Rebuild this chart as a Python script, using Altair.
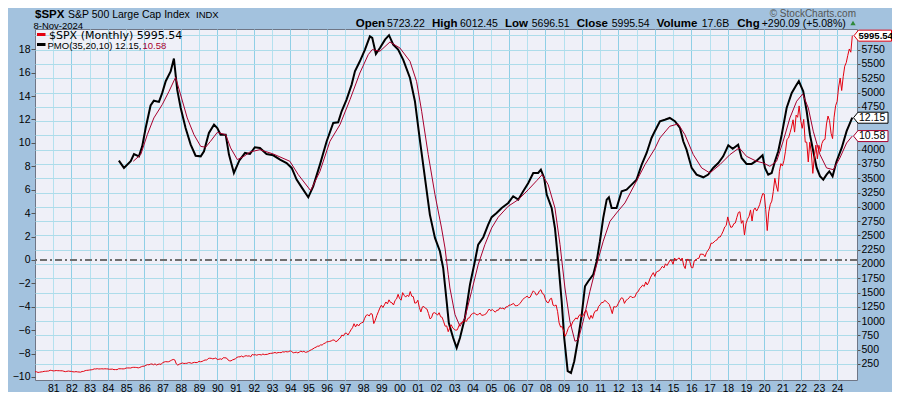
import altair as alt
import pandas as pd

# ---------------- data ----------------
spx_1980s = [
    114.16, 113.66, 102.09, 106.29, 111.24, 114.24, 121.67, 122.38, 125.46, 127.47, 140.52, 135.76,
    129.55, 131.27, 136.00, 132.81, 132.59, 131.21, 130.92, 122.79, 116.18, 121.89, 126.35, 122.55,
    120.40, 113.11, 111.96, 116.44, 111.88, 109.61, 107.09, 119.51, 120.42, 133.71, 138.54, 140.64,
    145.30, 148.06, 152.96, 164.42, 162.39, 168.11, 162.56, 164.40, 166.07, 163.55, 166.40, 164.93,
    163.41, 157.06, 159.18, 160.05, 150.55, 153.18, 150.66, 166.68, 166.10, 166.09, 163.58, 167.24,
    179.63, 181.18, 180.66, 179.83, 189.55, 191.85, 190.92, 188.63, 182.08, 189.82, 202.17, 211.28,
    211.78, 226.92, 238.90, 235.52, 247.35, 250.84, 236.12, 252.93, 231.32, 243.98, 249.22, 242.17,
    274.08, 284.20, 291.70, 288.36, 290.10, 304.00, 318.66, 329.80, 321.83, 251.79, 230.30, 247.08,
    257.07, 267.82, 258.89, 261.33, 262.16, 273.50, 272.02, 261.52, 271.91, 278.97, 273.70, 277.72,
    297.47, 288.86, 294.87, 309.64, 320.52, 317.98, 346.08, 351.45, 349.15, 340.36, 345.99, 353.40,
]
spx_1990s = [
    329.08, 331.89, 339.94, 330.80, 361.23, 358.02, 356.15, 322.56, 306.05, 304.00, 322.22, 330.22,
    343.93, 367.07, 375.22, 375.34, 389.83, 371.16, 387.81, 395.43, 387.86, 392.46, 375.22, 417.09,
    408.79, 412.70, 403.69, 414.95, 415.35, 408.14, 424.21, 414.03, 417.80, 418.68, 431.35, 435.71,
    438.78, 443.38, 451.67, 440.19, 450.19, 450.53, 448.13, 463.56, 458.93, 467.83, 461.79, 466.45,
    481.61, 467.14, 445.77, 450.91, 456.50, 444.27, 458.26, 475.49, 462.69, 472.35, 453.69, 459.27,
    470.42, 487.39, 500.71, 514.71, 533.40, 544.75, 562.06, 561.88, 584.41, 581.50, 605.37, 615.93,
    636.02, 640.43, 645.50, 654.17, 669.12, 670.63, 639.95, 651.99, 687.31, 705.27, 757.02, 740.74,
    786.16, 790.82, 757.12, 801.34, 848.28, 885.14, 954.31, 899.47, 947.28, 914.62, 955.40, 970.43,
    980.28, 1049.34, 1101.75, 1111.75, 1090.82, 1133.84, 1120.67, 957.28, 1017.01, 1098.67, 1163.63, 1229.23,
    1279.64, 1238.33, 1286.37, 1335.18, 1301.84, 1372.71, 1328.72, 1320.41, 1282.71, 1362.93, 1388.91, 1469.25,
]
spx_2000s = [
    1394.46, 1366.42, 1498.58, 1452.43, 1420.60, 1454.60, 1430.83, 1517.68, 1436.51, 1429.40, 1314.95, 1320.28,
    1366.01, 1239.94, 1160.33, 1249.46, 1255.82, 1224.42, 1211.23, 1133.58, 1040.94, 1059.78, 1139.45, 1148.08,
    1130.20, 1106.73, 1147.39, 1076.92, 1067.14, 989.82, 911.62, 916.07, 815.28, 885.76, 936.31, 879.82,
    855.70, 841.15, 848.18, 916.92, 963.59, 974.50, 990.31, 1008.01, 995.97, 1050.71, 1058.20, 1111.92,
    1131.13, 1144.94, 1126.21, 1107.30, 1120.68, 1140.84, 1101.72, 1104.24, 1114.58, 1130.20, 1173.82, 1211.92,
    1181.27, 1203.60, 1180.59, 1156.85, 1191.50, 1191.33, 1234.18, 1220.33, 1228.81, 1207.01, 1249.48, 1248.29,
    1280.08, 1280.66, 1294.87, 1310.61, 1270.09, 1270.20, 1276.66, 1303.82, 1335.85, 1377.94, 1400.63, 1418.30,
    1438.24, 1406.82, 1420.86, 1482.37, 1530.62, 1503.35, 1455.27, 1473.99, 1526.75, 1549.38, 1481.14, 1468.36,
    1378.55, 1330.63, 1322.70, 1385.59, 1400.38, 1280.00, 1267.38, 1282.83, 1166.36, 968.75, 896.24, 903.25,
    825.88, 735.09, 797.87, 872.81, 919.14, 919.32, 987.48, 1020.62, 1057.08, 1036.19, 1095.63, 1115.10,
]
spx_2010s = [
    1073.87, 1104.49, 1169.43, 1186.69, 1089.41, 1030.71, 1101.60, 1049.33, 1141.20, 1183.26, 1180.55, 1257.64,
    1286.12, 1327.22, 1325.83, 1363.61, 1345.20, 1320.64, 1292.28, 1218.89, 1131.42, 1253.30, 1246.96, 1257.60,
    1312.41, 1365.68, 1408.47, 1397.91, 1310.33, 1362.16, 1379.32, 1406.58, 1440.67, 1412.16, 1416.18, 1426.19,
    1498.11, 1514.68, 1569.19, 1597.57, 1630.74, 1606.28, 1685.73, 1632.97, 1681.55, 1756.54, 1805.81, 1848.36,
    1782.59, 1859.45, 1872.34, 1883.95, 1923.57, 1960.23, 1930.67, 2003.37, 1972.29, 2018.05, 2067.56, 2058.90,
    1994.99, 2104.50, 2067.89, 2085.51, 2107.39, 2063.11, 2103.84, 1972.18, 1920.03, 2079.36, 2080.41, 2043.94,
    1940.24, 1932.23, 2059.74, 2065.30, 2096.95, 2098.86, 2173.60, 2170.95, 2168.27, 2126.15, 2198.81, 2238.83,
    2278.87, 2363.64, 2362.72, 2384.20, 2411.80, 2423.41, 2470.30, 2471.65, 2519.36, 2575.26, 2647.58, 2673.61,
    2823.81, 2713.83, 2640.87, 2648.05, 2705.27, 2718.37, 2816.29, 2901.52, 2913.98, 2711.74, 2760.17, 2506.85,
    2704.10, 2784.49, 2834.40, 2945.83, 2752.06, 2941.76, 2980.38, 2926.46, 2976.74, 3037.56, 3140.98, 3230.78,
]
spx_2020s = [
    3225.52, 2954.22, 2584.59, 2912.43, 3044.31, 3100.29, 3271.12, 3500.31, 3363.00, 3269.96, 3621.63, 3756.07,
    3714.24, 3811.15, 3972.89, 4181.17, 4204.11, 4297.50, 4395.26, 4522.68, 4307.54, 4605.38, 4567.00, 4766.18,
    4515.55, 4373.94, 4530.41, 4131.93, 4132.15, 3785.38, 4130.29, 3955.00, 3585.62, 3871.98, 4080.11, 3839.50,
    4076.60, 3970.15, 4109.31, 4169.48, 4179.83, 4450.38, 4588.96, 4507.66, 4288.05, 4193.80, 4567.80, 4769.83,
    4845.65, 5096.27, 5254.35, 5035.69, 5277.51, 5460.48, 5522.30, 5648.40, 5762.48, 5705.45, 5995.54,
]

pmo_dates = [
    1984.60, 1984.88, 1985.25, 1985.43, 1985.70, 1985.88, 1986.07, 1986.34, 1986.52, 1986.80, 1986.98,
    1987.17, 1987.44, 1987.62, 1987.80, 1987.99, 1988.26, 1988.54, 1988.81, 1989.09, 1989.27, 1989.54,
    1989.82, 1990.00, 1990.18, 1990.46, 1990.64, 1990.91, 1991.21, 1991.52, 1991.79, 1992.06, 1992.34,
    1992.70, 1993.07, 1993.44, 1993.80, 1994.08, 1994.35, 1994.63, 1994.99, 1995.26, 1995.63, 1996.00,
    1996.36, 1996.63, 1996.82, 1997.09, 1997.37, 1997.55, 1997.82, 1998.10, 1998.37, 1998.50, 1998.70,
    1998.92, 1999.20, 1999.42, 1999.65, 1999.92, 2000.20, 2000.57, 2000.84, 2001.12, 2001.39, 2001.66,
    2001.94, 2002.21, 2002.39, 2002.58, 2002.70, 2002.94, 2003.13, 2003.31, 2003.58, 2003.86, 2004.13,
    2004.31, 2004.59, 2004.86, 2005.05, 2005.32, 2005.60, 2005.96, 2006.23, 2006.51, 2006.78, 2007.06,
    2007.33, 2007.60, 2007.75, 2007.93, 2008.07, 2008.34, 2008.52, 2008.70, 2008.89, 2009.03, 2009.22,
    2009.40, 2009.58, 2009.77, 2009.99, 2010.17, 2010.35, 2010.62, 2010.81, 2010.99, 2011.17, 2011.36,
    2011.48, 2011.63, 2011.90, 2012.18, 2012.45, 2012.73, 2013.00, 2013.28, 2013.55, 2013.82, 2014.00,
    2014.28, 2014.55, 2014.82, 2015.10, 2015.38, 2015.56, 2015.74, 2016.02, 2016.29, 2016.66, 2016.93,
    2017.20, 2017.48, 2017.75, 2018.03, 2018.27, 2018.57, 2018.76, 2019.03, 2019.31, 2019.58, 2019.91,
    2020.04, 2020.22, 2020.41, 2020.59, 2020.77, 2020.96, 2021.23, 2021.51, 2021.78, 2021.90, 2022.14,
    2022.33, 2022.51, 2022.69, 2022.88, 2023.06, 2023.24, 2023.42, 2023.57, 2023.75, 2023.97, 2024.25,
    2024.52, 2024.83,
]
pmo_values = [
    8.48, 7.86, 8.43, 9.05, 8.85, 9.70, 11.27, 13.20, 13.60, 13.50, 14.27,
    15.27, 16.10, 17.20, 14.55, 13.00, 11.27, 9.85, 8.90, 8.85, 9.28, 10.85,
    11.56, 11.27, 10.70, 10.70, 9.00, 7.43, 8.50, 9.14, 9.05, 9.63, 9.57,
    9.05, 8.94, 8.57, 8.28, 7.86, 6.86, 6.20, 5.35, 6.29, 8.14, 10.14,
    11.70, 11.76, 12.70, 13.70, 14.98, 16.12, 16.97, 17.97, 19.10, 18.97, 17.60,
    18.10, 18.82, 19.20, 18.40, 17.97, 17.10, 15.55, 13.56, 10.14, 7.00, 3.87,
    1.88, 0.74, -0.69, -3.53, -5.40, -6.67, -7.52, -6.67, -4.96, -2.11, -0.11,
    1.31, 1.94, 3.01, 3.65, 4.01, 4.44, 4.87, 5.44, 5.15, 5.87, 6.58,
    7.43, 7.43, 7.71, 7.00, 5.58, 4.44, 2.73, -0.11, -3.53, -6.67, -9.51,
    -9.66, -8.66, -6.95, -4.68, -2.25, -1.82, -1.26, -0.11, 1.60, 3.59, 5.15,
    5.35, 4.44, 4.44, 5.87, 6.00, 6.43, 6.86, 8.14, 9.14, 10.42, 11.00,
    11.85, 11.98, 12.13, 11.85, 11.27, 10.14, 9.42, 7.86, 7.29, 7.06, 7.29,
    7.86, 8.28, 8.85, 9.80, 9.50, 9.85, 8.71, 8.20, 8.20, 8.48, 8.94,
    7.86, 7.29, 7.43, 8.43, 9.28, 10.70, 12.98, 14.27, 14.98, 15.27, 14.41,
    12.70, 10.70, 9.28, 7.86, 7.15, 6.86, 7.29, 7.57, 7.15, 8.43, 9.57,
    11.00, 12.15,
]
signal_dates = [
    1985.39, 1985.80, 1986.16, 1986.52, 1986.98, 1987.35, 1987.71, 1987.99, 1988.35, 1988.72, 1989.09,
    1989.36, 1989.63, 1990.00, 1990.46, 1990.73, 1991.10, 1991.46, 1991.79, 1992.34, 1993.07, 1993.98,
    1994.44, 1995.12, 1995.63, 1996.18, 1996.73, 1997.28, 1997.82, 1998.28, 1998.50, 1998.92, 1999.47,
    2000.02, 2000.57, 2000.93, 2001.21, 2001.57, 2001.94, 2002.30, 2002.49, 2002.67, 2002.76, 2003.04,
    2003.31, 2003.58, 2003.95, 2004.31, 2004.68, 2005.05, 2005.41, 2005.96, 2006.51, 2007.06, 2007.52,
    2007.82, 2008.15, 2008.52, 2008.80, 2009.07, 2009.34, 2009.62, 2009.80, 2010.07, 2010.44, 2010.81,
    2011.17, 2011.54, 2011.90, 2012.36, 2012.91, 2013.46, 2014.00, 2014.28, 2014.82, 2015.28, 2015.65,
    2016.11, 2016.57, 2017.02, 2017.57, 2018.12, 2018.63, 2019.03, 2019.58, 2019.95, 2020.31, 2020.68,
    2021.04, 2021.41, 2021.78, 2022.11, 2022.42, 2022.69, 2023.06, 2023.42, 2023.79, 2024.15, 2024.52,
    2024.83,
]
signal_values = [
    8.43, 9.00, 10.70, 12.13, 13.27, 14.40, 15.60, 14.10, 12.13, 10.70, 9.70,
    9.63, 10.14, 10.90, 10.70, 9.57, 8.57, 8.85, 9.22, 9.42, 9.05, 8.43,
    7.29, 5.92, 7.57, 10.14, 11.56, 13.70, 15.97, 17.54, 17.97, 17.83, 18.62,
    18.10, 16.97, 15.26, 12.70, 9.00, 5.58, 2.73, 1.02, -1.26, -2.40, -4.68,
    -5.67, -4.96, -2.68, -0.40, 1.31, 2.73, 3.65, 4.59, 5.15, 6.00, 6.77,
    7.29, 6.43, 4.44, 1.31, -2.40, -5.24, -6.95, -6.81, -5.24, -2.68, -0.40,
    1.60, 3.30, 4.01, 4.87, 6.49, 8.14, 9.50, 10.42, 11.42, 11.62, 10.70,
    9.00, 7.86, 7.43, 8.14, 9.00, 9.57, 8.85, 8.43, 8.28, 8.00, 8.43,
    10.14, 12.13, 13.56, 14.18, 12.98, 11.00, 9.00, 7.86, 7.71, 8.71, 9.99,
    10.58,
]

pmo_ticks = list(range(-10, 19, 2))
price_ticks = list(range(250, 6001, 250))
year_ticks = list(range(1981, 2025))

header_labels = ["Open", "High", "Low", "Close", "Volume", "Chg"]
header_values = ["5723.22", "6012.45", "5696.51", "5995.54", "17.6B", "+290.09 (+5.08%)"]

# ---------------- frames ----------------
prices = spx_1980s + spx_1990s + spx_2000s + spx_2010s + spx_2020s
price_df = pd.DataFrame({"t": [1980 + i / 12 for i in range(len(prices))], "price": prices})
pmo_df = pd.DataFrame({"t": pmo_dates, "v": pmo_values})
sig_df = pd.DataFrame({"t": signal_dates, "v": signal_values})

# ---------------- styling ----------------
W, H = 822, 351
AX_FONT = "Liberation Sans"
RED = "#e4000f"
DARKRED = "#a8002e"

x_enc = alt.X(
    "t:Q",
    scale=alt.Scale(domain=[1980.0, 2025.09], nice=False, zero=False),
    axis=alt.Axis(
        values=year_ticks,
        labelExpr="substring(toString(datum.value), 2, 4)",
        grid=True,
        gridColor={"condition": {"test": "datum.value % 2 == 0", "value": "#8fcfe6"}, "value": "#b4e1ef"},
        gridWidth=1,
        ticks=False,
        domain=False,
        labelFont=AX_FONT,
        labelFontSize=10.5,
        labelColor="#000000",
        labelPadding=3,
        title=None,
    ),
)

pmo_scale = alt.Scale(domain=[-10.26, 19.73], nice=False, zero=False)
price_scale = alt.Scale(domain=[-30, 6112], nice=False, zero=False)

pmo_axis = alt.Axis(
    orient="left", values=pmo_ticks, grid=False, domain=False, tickSize=4,
    tickColor="#555555", labelFont=AX_FONT, labelFontSize=10.5, labelColor="#000000",
    labelPadding=1, title=None,
)
price_axis = alt.Axis(
    orient="right", values=price_ticks, grid=True, gridColor="#addcea", domain=False,
    tickSize=3, tickColor="#555555", labelFont=AX_FONT, labelFontSize=10.5,
    labelColor="#000000", labelPadding=1, title=None,
    labelExpr="(datum.value == 6000 || datum.value == 4500 || datum.value == 4250) ? '' : toString(datum.value)",
)

# ---------------- PMO group ----------------
zero_line = alt.Chart(pmo_df).mark_rule(color="#6e6e6e", strokeWidth=1, strokeDash=[7, 3, 2, 3]).encode(
    y=alt.datum(0, scale=pmo_scale, axis=pmo_axis)
)
pmo_line = alt.Chart(pmo_df).mark_line(color="#000000", strokeWidth=2).encode(
    x=x_enc, y=alt.Y("v:Q", scale=pmo_scale, axis=pmo_axis)
)
sig_line = alt.Chart(sig_df).mark_line(color=DARKRED, strokeWidth=1).encode(
    x=x_enc, y=alt.Y("v:Q", scale=pmo_scale, axis=pmo_axis)
)

tag_pmo_path = "M0,0L0.45,-0.55L3.45,-0.55L3.45,0.55L0.45,0.55Z"
pmo_tag_df = pd.DataFrame({"v": [pmo_values[-1], signal_values[-1]],
                           "s": [f"{pmo_values[-1]:.2f}", f"{signal_values[-1]:.2f}"],
                           "k": ["pmo", "sig"]})
pmo_tag = alt.Chart(pmo_tag_df).mark_point(
    shape=tag_pmo_path, size=400, filled=True, fill="#ffffff", strokeWidth=1, opacity=1
).encode(
    x=alt.value(818.5),
    y=alt.Y("v:Q", scale=pmo_scale, axis=pmo_axis),
    stroke=alt.Stroke("k:N", scale=alt.Scale(domain=["pmo", "sig"], range=["#000000", DARKRED]), legend=None),
)
pmo_tag_text = alt.Chart(pmo_tag_df).mark_text(
    align="left", baseline="middle", font=AX_FONT, fontSize=10.5, color="#000000"
).encode(x=alt.value(824), y=alt.Y("v:Q", scale=pmo_scale, axis=pmo_axis), text="s:N")

pmo_group = alt.layer(zero_line, pmo_line, sig_line, pmo_tag, pmo_tag_text)

# ---------------- price group ----------------
price_line = alt.Chart(price_df).mark_line(color=RED, strokeWidth=1).encode(
    x=x_enc, y=alt.Y("price:Q", scale=price_scale, axis=price_axis)
)
price_tag_df = pd.DataFrame({"price": [prices[-1]], "s": [f"{prices[-1]:.2f}"]})
price_tag = alt.Chart(price_tag_df).mark_point(
    shape="M0,0L0.45,-0.55L3.75,-0.55L3.75,0.55L0.45,0.55Z", size=400, filled=True,
    fill="#ffffff", stroke=RED, strokeWidth=1, opacity=1
).encode(x=alt.value(819), y=alt.Y("price:Q", scale=price_scale, axis=price_axis))
price_tag_text = alt.Chart(price_tag_df).mark_text(
    align="left", baseline="middle", font=AX_FONT, fontSize=9.5, fontWeight="bold", color="#000000"
).encode(x=alt.value(823.5), y=alt.Y("price:Q", scale=price_scale, axis=price_axis), text="s:N")

price_group = alt.layer(price_line, price_tag, price_tag_text)

# ---------------- header / legend text ----------------
def txt(s, x, y, size, weight="normal", color="#000000", font=AX_FONT, align="left"):
    return alt.Chart(pd.DataFrame({"s": [s]})).mark_text(
        align=align, baseline="alphabetic", font=font, fontSize=size, fontWeight=weight, color=color
    ).encode(x=alt.value(x), y=alt.value(y), text="s:N")

texts = [
    txt("$SPX", 0, -11.5, 11.5, "bold"),
    txt("S&P 500 Large Cap Index", 33, -11.5, 10.5),
    txt("INDX", 161, -11.5, 9.5),
    txt("8-Nov-2024", -1.5, -0.5, 9.5),
    txt("\u00a9 StockCharts.com", 821, -12.5, 10, color="#555555", align="right"),
]
hx = [320.7, 397, 470, 541.7, 621.7, 702.3]
vx = [352, 425, 496.7, 576.7, 666.7, 726.7]
for lab, val, a, b in zip(header_labels, header_values, hx, vx):
    texts.append(txt(lab, a, -2, 11.5, "bold"))
    texts.append(txt(val, b, -2, 10.5))

tri = alt.Chart(pd.DataFrame({"s": ["up"]})).mark_point(
    shape="triangle-up", size=28, filled=True, color="#2f8a3a", opacity=1
).encode(x=alt.value(818), y=alt.value(-6))

leg_red = alt.Chart(pd.DataFrame({"s": ["a"]})).mark_rule(color=RED, strokeWidth=3).encode(
    x=alt.value(2), x2=alt.value(10.5), y=alt.value(5.5))
leg_blk = alt.Chart(pd.DataFrame({"s": ["a"]})).mark_rule(color="#000000", strokeWidth=3).encode(
    x=alt.value(2), x2=alt.value(10.5), y=alt.value(15.5))
texts += [
    txt(f"$SPX (Monthly) {prices[-1]:.2f}", 14, 9.8, 11, font="DejaVu Sans"),
    txt(f"PMO(35,20,10) {pmo_values[-1]:.2f},", 12.5, 20, 9.5, font=AX_FONT),
    txt(f"{signal_values[-1]:.2f}", 107.5, 20, 9.5, color=DARKRED, font=AX_FONT),
]

chart = alt.layer(pmo_group, price_group, tri, leg_red, leg_blk, *texts).resolve_scale(
    y="independent"
).properties(
    width=W, height=H,
    padding={"left": 27, "top": 21, "right": 35, "bottom": 12},
    autosize=alt.AutoSizeParams(type="none"),
    background="#a3c2de",
).configure_view(
    fill="#eff0f8", stroke="#6f7686", strokeWidth=1
)

chart.save("out.html", embed_options={"renderer": "svg", "actions": False})
